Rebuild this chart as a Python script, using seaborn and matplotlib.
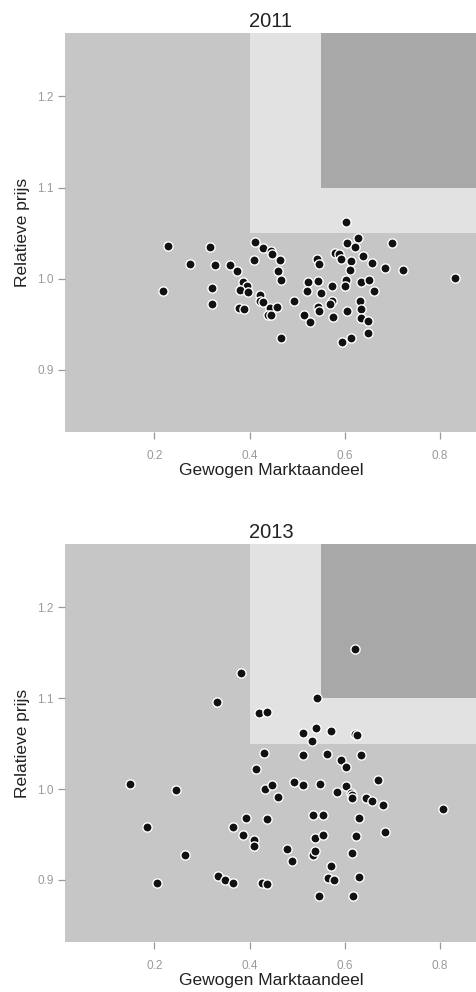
import numpy as np
import pandas as pd
import matplotlib
matplotlib.use("Agg")
import matplotlib.pyplot as plt
import seaborn as sns

# ---- data ----
x_2011 = [0.228, 0.218, 0.275, 0.316, 0.327, 0.321, 0.321, 0.358, 0.374, 0.387,
          0.394, 0.380, 0.396, 0.378, 0.389, 0.411, 0.429, 0.444, 0.447, 0.409,
          0.464, 0.460, 0.465, 0.421, 0.422, 0.429, 0.442, 0.458, 0.438, 0.445,
          0.465, 0.494, 0.522, 0.520, 0.515, 0.526, 0.541, 0.546, 0.543, 0.551,
          0.543, 0.545,
          0.602, 0.628, 0.604, 0.622, 0.700, 0.579, 0.587, 0.592, 0.638, 0.614,
          0.658, 0.685, 0.723, 0.610, 0.831, 0.603, 0.633, 0.650, 0.573, 0.600,
          0.662, 0.573, 0.569, 0.631, 0.635, 0.605, 0.575, 0.633, 0.648, 0.648,
          0.614, 0.594]
y_2011 = [1.036, 0.987, 1.016, 1.035, 1.015, 0.990, 0.972, 1.015, 1.008, 0.996,
          0.992, 0.988, 0.985, 0.968, 0.967, 1.040, 1.034, 1.030, 1.027, 1.021,
          1.020, 1.008, 0.999, 0.982, 0.976, 0.974, 0.968, 0.969, 0.960, 0.960,
          0.935, 0.976, 0.996, 0.986, 0.960, 0.953, 1.022, 1.016, 0.997, 0.984,
          0.969, 0.965,
          1.062, 1.045, 1.039, 1.035, 1.039, 1.028, 1.027, 1.022, 1.025, 1.019,
          1.017, 1.012, 1.010, 1.010, 1.001, 0.999, 0.996, 0.999, 0.992, 0.992,
          0.987, 0.976, 0.972, 0.976, 0.967, 0.964, 0.958, 0.957, 0.954, 0.940,
          0.935, 0.931]

x_2013 = [0.381, 0.331, 0.420, 0.436, 0.431, 0.413, 0.148, 0.246, 0.433, 0.448,
          0.460, 0.184, 0.393, 0.436, 0.366, 0.386, 0.410, 0.410, 0.264, 0.206,
          0.334, 0.349, 0.366, 0.427, 0.436,
          0.622, 0.542, 0.513, 0.539, 0.570, 0.621, 0.626, 0.531, 0.513, 0.562,
          0.591, 0.602, 0.633, 0.494, 0.513, 0.548, 0.602, 0.583, 0.614, 0.616,
          0.615, 0.645, 0.657, 0.669, 0.680, 0.806, 0.533, 0.555, 0.629, 0.684,
          0.538, 0.554, 0.624, 0.533, 0.538, 0.478, 0.489, 0.615, 0.572, 0.565,
          0.578, 0.630, 0.546, 0.617]
y_2013 = [1.128, 1.096, 1.084, 1.085, 1.040, 1.022, 1.0055, 0.999, 1.000, 1.004,
          0.9915, 0.958, 0.968, 0.967, 0.958, 0.949, 0.944, 0.937, 0.928, 0.897,
          0.904, 0.900, 0.897, 0.897, 0.896,
          1.154, 1.100, 1.062, 1.067, 1.064, 1.060, 1.059, 1.053, 1.037, 1.039,
          1.032, 1.024, 1.038, 1.008, 1.005, 1.006, 1.003, 0.997, 0.996, 0.993,
          0.990, 0.990, 0.987, 1.010, 0.982, 0.978, 0.971, 0.971, 0.968, 0.953,
          0.946, 0.950, 0.948, 0.928, 0.932, 0.934, 0.921, 0.930, 0.915, 0.902,
          0.900, 0.903, 0.882, 0.882]

years = ["2011", "2013"]
x_ticks = [0.2, 0.4, 0.6, 0.8]
x_ticklabels = ["0.2", "0.4", "0.6", "0.8"]
y_ticks = [0.9, 1.0, 1.1, 1.2]
y_ticklabels = ["0.9", "1.0", "1.1", "1.2"]
x_label = "Gewogen Marktaandeel"
y_label = "Relatieve prijs"

# zone thresholds
light_x, light_y = 0.4, 1.05
dark_x, dark_y = 0.55, 1.1

df = pd.concat([
    pd.DataFrame({"x": x_2011, "y": y_2011, "jaar": "2011"}),
    pd.DataFrame({"x": x_2013, "y": y_2013, "jaar": "2013"}),
], ignore_index=True)

sns.set_theme(style="white")
plt.rcParams["font.family"] = ["Liberation Sans", "DejaVu Sans"]

W, H = 477, 992
fig = plt.figure(figsize=(W / 100, H / 100), dpi=100)

xlim = (0.0124, 0.8776)
ylim = (0.8318, 1.2695)

base_c = "#c6c6c6"
light_c = "#e2e2e2"
dark_c = "#a8a8a8"

positions = [
    [65 / W, 1 - 432 / H, 412 / W, 399 / H],
    [65 / W, 1 - 942 / H, 412 / W, 398 / H],
]

for yr, pos in zip(years, positions):
    ax = fig.add_axes(pos)
    ax.set_facecolor(base_c)
    ax.set_xlim(*xlim)
    ax.set_ylim(*ylim)
    ax.fill_between([light_x, xlim[1]], light_y, ylim[1], color=light_c, lw=0, zorder=0)
    ax.fill_between([dark_x, xlim[1]], dark_y, ylim[1], color=dark_c, lw=0, zorder=0)
    sub = df[df["jaar"] == yr]
    sns.scatterplot(data=sub, x="x", y="y", ax=ax, color="#111111",
                    edgecolor="white", linewidth=1.0, s=44, zorder=3, legend=False)
    for s in ax.spines.values():
        s.set_visible(False)
    ax.set_xticks(x_ticks)
    ax.set_xticklabels(x_ticklabels)
    ax.set_yticks(y_ticks)
    ax.set_yticklabels(y_ticklabels)
    ax.tick_params(axis="both", which="major", length=5, width=0.9,
                   color="#999999", labelcolor="#9a9a9a", labelsize=8.5,
                   bottom=True, left=True)
    ax.tick_params(axis="x", pad=8)
    ax.tick_params(axis="y", pad=3)
    ax.set_xlabel(x_label, fontsize=12.5, color="#222222")
    ax.set_ylabel(y_label, fontsize=12.5, color="#222222")
    ax.xaxis.set_label_coords(0.5, -0.078)
    ax.yaxis.set_label_coords(-0.086, 0.5)
    ax.set_title(yr, fontsize=14.5, color="#222222", pad=4)
    ax.grid(False)

fig.savefig("out.png", dpi=100)
